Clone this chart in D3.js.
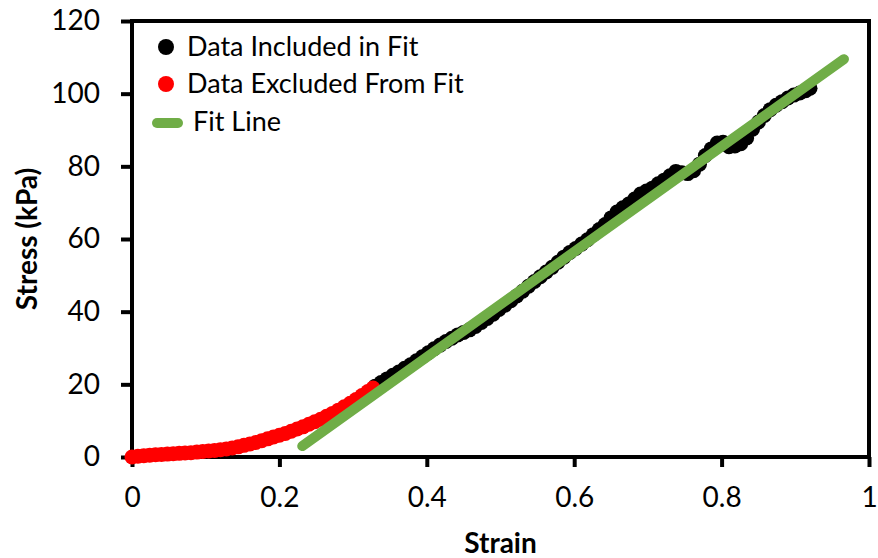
<!DOCTYPE html>
<html lang="en">
<head>
    <meta charset="UTF-8">
    <script src="https://cdn.jsdelivr.net/npm/d3@7"></script>
    <style type="text/css">
        * { margin: 0; padding: 0; }
        body { background-color: white; font-family: Lato, "Open Sans", sans-serif; }
        svg { display: block; }
    </style>
    <title>Stress vs Strain</title>
</head>
<body>
    <div id="chartContainer"></div>

    <script>
        // data
        var excludedStrain = [0, 0.008, 0.016, 0.024, 0.032, 0.040, 0.048, 0.056, 0.064, 0.072, 0.080, 0.088, 0.096, 0.104,
            0.112, 0.120, 0.128, 0.136, 0.144, 0.152, 0.160, 0.168, 0.176, 0.184, 0.192, 0.200, 0.208, 0.216, 0.224, 0.232,
            0.240, 0.248, 0.256, 0.264, 0.272, 0.280, 0.288, 0.296, 0.304, 0.312, 0.320, 0.327];
        var excludedStress = [0.0, 0.2, 0.35, 0.5, 0.6, 0.7, 0.8, 0.9, 1.0, 1.1, 1.2, 1.35, 1.5, 1.65,
            1.8, 2.0, 2.2, 2.5, 2.8, 3.2, 3.6, 4.0, 4.5, 5.0, 5.5, 6.0, 6.5, 7.1, 7.7, 8.3,
            9.0, 9.7, 10.4, 11.2, 12.0, 12.9, 13.8, 14.8, 15.8, 16.9, 18.0, 19.0];

        var includedStrain = [0.330, 0.338, 0.346, 0.354, 0.362, 0.370, 0.378, 0.386, 0.394, 0.402, 0.410, 0.418, 0.426,
            0.434, 0.442, 0.450, 0.458, 0.466, 0.474, 0.482, 0.490, 0.498, 0.506, 0.514, 0.522, 0.530, 0.538, 0.546,
            0.554, 0.562, 0.570, 0.578, 0.586, 0.594, 0.602, 0.610, 0.618, 0.626, 0.634, 0.642, 0.650, 0.658, 0.666,
            0.674, 0.682, 0.690, 0.698, 0.706, 0.714, 0.722, 0.730, 0.738, 0.746, 0.754, 0.762, 0.770, 0.778, 0.786,
            0.794, 0.802, 0.810, 0.818, 0.826, 0.834, 0.842, 0.850, 0.858, 0.866, 0.874, 0.882, 0.890, 0.898, 0.906,
            0.914, 0.920];
        var includedStress = [19.5, 20.5, 21.5, 22.5, 23.4, 24.4, 25.4, 26.5, 27.6, 28.7, 29.8, 30.8, 31.8,
            32.7, 33.6, 34.3, 35.0, 35.9, 37.0, 38.1, 39.3, 40.6, 41.8, 43.0, 44.3, 45.6, 47.0, 48.3,
            49.6, 50.9, 52.2, 53.6, 55.0, 56.3, 57.4, 58.6, 59.8, 61.2, 62.6, 64.0, 65.8, 67.4, 68.6,
            69.6, 71.0, 72.4, 73.2, 74.0, 75.2, 76.2, 77.4, 78.6, 78.2, 78.0, 78.8, 80.6, 83.0, 84.8,
            86.4, 86.6, 85.4, 85.6, 86.2, 87.8, 90.2, 92.2, 94.0, 95.6, 96.8, 97.8, 98.8, 99.6, 100.2,
            100.8, 101.5];

        var fitStrain = [0.231, 0.966];
        var fitStress = [3.0, 109.5];

        var xTicks = [0, 0.2, 0.4, 0.6, 0.8, 1];
        var yTicks = [0, 20, 40, 60, 80, 100, 120];

        var legendLabels = ["Data Included in Fit", "Data Excluded From Fit", "Fit Line"];

        //Width and height
        var w = 878;
        var h = 558;
        var pLeft = 132, pRight = 869, pTop = 21, pBottom = 457;

        var xScale = d3.scaleLinear().domain([0, 1]).range([pLeft, pRight]);
        var yScale = d3.scaleLinear().domain([0, 120]).range([pBottom, pTop]);

        var svg = d3.select("#chartContainer")
                    .append("svg")
                    .attr("width", w)
                    .attr("height", h);

        // plot area border (top and right)
        svg.append("path")
            .attr("d", "M" + pLeft + "," + pTop + "H" + pRight + "V" + pBottom)
            .attr("fill", "none")
            .attr("stroke", "black")
            .attr("stroke-width", 4);

        //Define axes
        var xAxis = d3.axisBottom(xScale)
                    .tickValues(xTicks)
                    .tickSize(10)
                    .tickPadding(20)
                    .tickFormat(d3.format("~g"));
        var yAxis = d3.axisLeft(yScale)
                    .tickValues(yTicks)
                    .tickSize(11)
                    .tickPadding(21);

        var gx = svg.append("g")
            .attr("class", "axis x")
            .attr("transform", "translate(0," + pBottom + ")")
            .call(xAxis);
        var gy = svg.append("g")
            .attr("class", "axis y")
            .attr("transform", "translate(" + pLeft + ",0)")
            .call(yAxis);

        gx.select(".domain").attr("d", "M" + (pLeft - 2) + ",0H" + (pRight + 2));
        gy.select(".domain").attr("d", "M0," + (pTop - 2) + "V" + (pBottom + 2));
        [gx, gy].forEach(function(g) {
            g.select(".domain").attr("stroke-width", 4);
            g.selectAll(".tick line").attr("stroke-width", 4);
            g.selectAll(".tick text")
                .attr("font-family", "Lato, sans-serif")
                .attr("font-size", "28px")
                .attr("fill", "black");
        });
        gx.selectAll(".tick text").attr("dy", "0.71em");

        // series: black first, then red, then the fit line on top
        var dots = svg.append("g");
        dots.selectAll("circle.inc")
            .data(d3.range(includedStrain.length))
            .enter()
            .append("circle")
            .attr("class", "inc")
            .attr("cx", function(i) { return xScale(includedStrain[i]); })
            .attr("cy", function(i) { return yScale(includedStress[i]); })
            .attr("r", 7.5)
            .attr("fill", "black");

        dots.selectAll("circle.exc")
            .data(d3.range(excludedStrain.length))
            .enter()
            .append("circle")
            .attr("class", "exc")
            .attr("cx", function(i) { return xScale(excludedStrain[i]); })
            .attr("cy", function(i) { return yScale(excludedStress[i]); })
            .attr("r", 7.5)
            .attr("fill", "#ff0000");

        var line = d3.line()
            .x(function(i) { return xScale(fitStrain[i]); })
            .y(function(i) { return yScale(fitStress[i]); });

        svg.append("path")
            .attr("d", line(d3.range(fitStrain.length)))
            .attr("fill", "none")
            .attr("stroke", "#70ad47")
            .attr("stroke-width", 10)
            .attr("stroke-linecap", "round");

        // legend
        var legend = svg.append("g").attr("font-family", "Lato, sans-serif").attr("font-size", "27px");
        legend.append("circle").attr("cx", 166).attr("cy", 47).attr("r", 8).attr("fill", "black");
        legend.append("circle").attr("cx", 166).attr("cy", 84).attr("r", 8).attr("fill", "#ff0000");
        legend.append("line")
            .attr("x1", 157).attr("x2", 178).attr("y1", 123).attr("y2", 123)
            .attr("stroke", "#70ad47").attr("stroke-width", 10).attr("stroke-linecap", "round");
        legend.append("text").attr("x", 187).attr("y", 56).text(legendLabels[0]);
        legend.append("text").attr("x", 187).attr("y", 93).text(legendLabels[1]);
        legend.append("text").attr("x", 193).attr("y", 131).text(legendLabels[2]);

        // axis titles
        svg.append("text")
            .attr("x", (pLeft + pRight) / 2)
            .attr("y", 553)
            .attr("text-anchor", "middle")
            .attr("font-family", "Lato, sans-serif")
            .attr("font-weight", "bold")
            .attr("font-size", "28px")
            .text("Strain");

        svg.append("text")
            .attr("transform", "translate(37," + (pTop + pBottom) / 2 + ") rotate(-90)")
            .attr("text-anchor", "middle")
            .attr("font-family", "Lato, sans-serif")
            .attr("font-weight", "bold")
            .attr("font-size", "28px")
            .text("Stress (kPa)");
    </script>
</body>
</html>
